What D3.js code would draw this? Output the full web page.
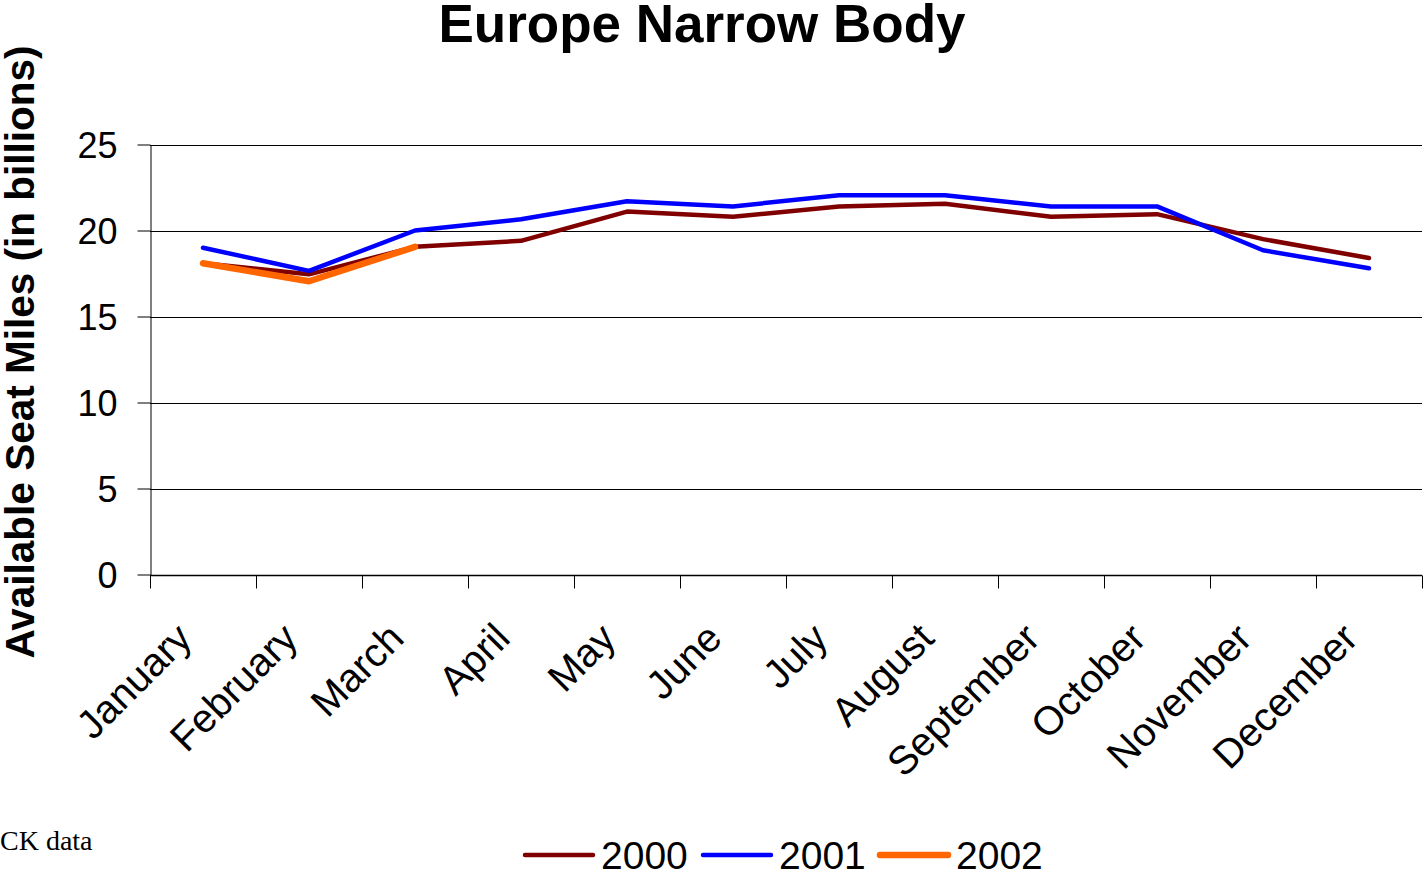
<!DOCTYPE html>
<html>
<head>
<meta charset="utf-8">
<script src="https://cdn.jsdelivr.net/npm/d3@7"></script>
<style>
  html, body { margin: 0; padding: 0; background: #ffffff; }
  svg { display: block; }
</style>
</head>
<body>
<svg id="chart" width="1424" height="874"></svg>
<script>
// Monthly available seat miles (billions), European narrow-body fleet
const months = ["January", "February", "March", "April", "May", "June",
  "July", "August", "September", "October", "November", "December"];
const asm2000 = [18.1, 17.45, 19.05, 19.4, 21.1, 20.8, 21.4, 21.55, 20.8, 20.95, 19.5, 18.4];
const asm2001 = [19.0, 17.65, 20.0, 20.65, 21.7, 21.4, 22.05, 22.05, 21.4, 21.4, 18.85, 17.8];
const asm2002 = [18.1, 17.05, 19.05];
const yTicks = [0, 5, 10, 15, 20, 25];

const seriesList = [
  { name: "2000", values: asm2000, color: "#800000", width: 4.5 },
  { name: "2001", values: asm2001, color: "#0000ff", width: 4.5 },
  { name: "2002", values: asm2002, color: "#ff6600", width: 6.5 }
];

const svg = d3.select("#chart");
const plot = { left: 150, right: 1422, top: 144.5, bottom: 574.5 };

const x = d3.scaleBand().domain(months).range([plot.left, plot.right]);
const y = d3.scaleLinear().domain([0, 25]).range([plot.bottom, plot.top]);

// Horizontal gridlines
svg.append("g")
  .selectAll("line")
  .data(yTicks.filter(d => d > 0))
  .join("line")
  .attr("x1", plot.left).attr("x2", plot.right)
  .attr("y1", d => Math.round(y(d)) + 0.5).attr("y2", d => Math.round(y(d)) + 0.5)
  .attr("stroke", "#000").attr("stroke-width", 1);

// Y axis
const yAxis = svg.append("g")
  .attr("transform", `translate(${plot.left + 0.5},0)`)
  .call(d3.axisLeft(y).tickValues(yTicks).tickSize(13).tickPadding(20).tickSizeOuter(0));
yAxis.select(".domain").attr("stroke", "#000");
yAxis.selectAll(".tick line").attr("stroke", "#000");
yAxis.selectAll(".tick text")
  .attr("font-family", "Liberation Sans, Arial, sans-serif")
  .attr("font-size", 36)
  .attr("fill", "#000")
  .attr("dy", "0.36em");

// X axis: ticks at category boundaries
const xAxisG = svg.append("g").attr("transform", `translate(0,${Math.round(plot.bottom) + 0.5})`);
xAxisG.append("line")
  .attr("x1", plot.left).attr("x2", plot.right)
  .attr("stroke", "#000").attr("stroke-width", 1.5);
const boundaries = months.map(m => x(m)).concat([plot.right]);
xAxisG.selectAll("line.tick")
  .data(boundaries)
  .join("line")
  .attr("class", "tick")
  .attr("x1", d => Math.round(d) + 0.5).attr("x2", d => Math.round(d) + 0.5)
  .attr("y1", 0).attr("y2", 13)
  .attr("stroke", "#000").attr("stroke-width", 1);

xAxisG.selectAll("text")
  .data(months)
  .join("text")
  .attr("transform", d => `translate(${x(d) + x.bandwidth() / 2 - 9},${65}) rotate(-45)`)
  .attr("text-anchor", "end")
  .attr("font-family", "Liberation Sans, Arial, sans-serif")
  .attr("font-size", 40)
  .attr("fill", "#000")
  .text(d => d);

// Series lines
const line = d3.line()
  .x((d, i) => x(months[i]) + x.bandwidth() / 2)
  .y(d => y(d));

svg.append("g")
  .selectAll("path")
  .data(seriesList)
  .join("path")
  .attr("d", s => line(s.values))
  .attr("fill", "none")
  .attr("stroke", s => s.color)
  .attr("stroke-width", s => s.width)
  .attr("stroke-linejoin", "round")
  .attr("stroke-linecap", "round");

// Title
svg.append("text")
  .attr("x", 702).attr("y", 42)
  .attr("text-anchor", "middle")
  .attr("font-family", "Liberation Sans, Arial, sans-serif")
  .attr("font-weight", "bold")
  .attr("font-size", 53)
  .attr("fill", "#000")
  .text("Europe Narrow Body");

// Y axis title
svg.append("text")
  .attr("transform", "translate(34,352) rotate(-90)")
  .attr("text-anchor", "middle")
  .attr("font-family", "Liberation Sans, Arial, sans-serif")
  .attr("font-weight", "bold")
  .attr("font-size", 40.5)
  .attr("fill", "#000")
  .text("Available Seat Miles (in billions)");

// Source note
svg.append("text")
  .attr("x", 0).attr("y", 850)
  .attr("font-family", "Liberation Serif, Times New Roman, serif")
  .attr("font-size", 28)
  .attr("fill", "#000")
  .text("CK data");

// Legend
const legendX = [525, 703, 880];
const legend = svg.append("g")
  .selectAll("g")
  .data(seriesList)
  .join("g")
  .attr("transform", (d, i) => `translate(${legendX[i]},855)`);
legend.append("line")
  .attr("x1", 0).attr("x2", 68)
  .attr("stroke", d => d.color)
  .attr("stroke-width", d => d.width)
  .attr("stroke-linecap", "round");
legend.append("text")
  .attr("x", 76).attr("y", 14)
  .attr("font-family", "Liberation Sans, Arial, sans-serif")
  .attr("font-size", 39)
  .attr("fill", "#000")
  .text(d => d.name);
</script>
</body>
</html>
